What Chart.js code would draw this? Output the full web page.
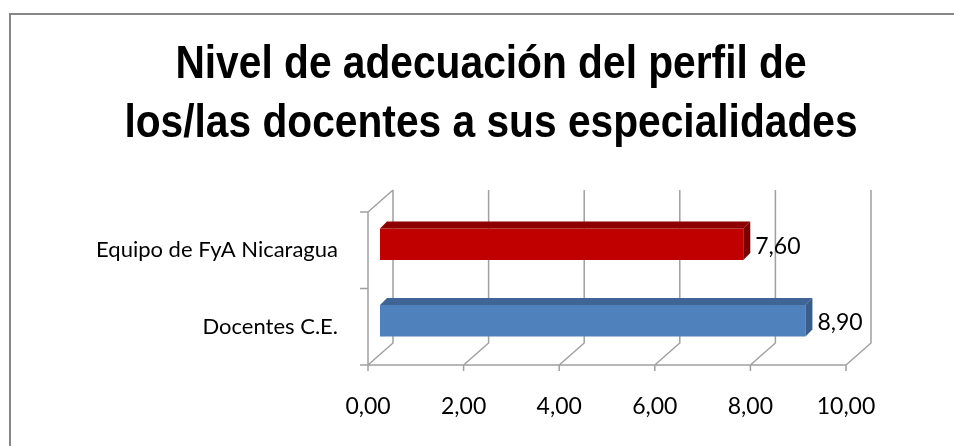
<!DOCTYPE html>
<html>
<head>
<meta charset="utf-8">
<script src="https://cdn.jsdelivr.net/npm/chart.js@4.4.1/dist/chart.umd.min.js"></script>
<style>
  html, body { margin: 0; padding: 0; background: #fff; }
  #wrap { width: 954px; height: 446px; }
</style>
</head>
<body>
<div id="wrap"><canvas id="chart" width="954" height="446"></canvas></div>
<script>
// data
const categories = ["Equipo de FyA Nicaragua", "Docentes C.E."]
const values = [7.6, 8.9]
const axisMin = 0
const axisMax = 10
const axisStep = 2
const titleLines = ["Nivel de adecuación del perfil de", "los/las docentes a sus especialidades"]

const frontColors = ["#C00000", "#4F81BD"]
const topColors = ["#8E0000", "#3E6596"]
const sideColors = ["#7A0000", "#385D8A"]

const fmt = v => Number(v).toFixed(2).replace(".", ",")

// fake 3d: wall depth and where the bars sit inside it
const WALL = { dx: 25, dy: -22 }
const BAR_SHIFT = { dx: 12, dy: -6 }
const BAR_DEPTH = 7
const LINE = "#A0A0A0"

const frame = {
    id: "frame",
    beforeDraw(chart) {
        const ctx = chart.ctx
        ctx.save()
        ctx.strokeStyle = "#878787"
        ctx.lineWidth = 2
        ctx.beginPath()
        ctx.moveTo(10, chart.height)
        ctx.lineTo(10, 14)
        ctx.lineTo(chart.width, 14)
        ctx.stroke()
        ctx.restore()
    }
}

// narrow bold title (no condensed font installed, so squeeze Liberation Sans)
const narrowTitle = {
    id: "narrowTitle",
    afterDraw(chart) {
        const ctx = chart.ctx
        const baselines = [78, 137]
        ctx.save()
        ctx.fillStyle = "#000"
        ctx.font = "bold 46px 'Liberation Sans', Arial, sans-serif"
        ctx.textAlign = "center"
        ctx.textBaseline = "alphabetic"
        titleLines.forEach((line, i) => {
            ctx.save()
            ctx.translate(491, baselines[i])
            ctx.scale(0.885, 1)
            ctx.fillText(line, 0, 0)
            ctx.restore()
        })
        ctx.restore()
    }
}

const box3d = {
    id: "box3d",
    beforeDatasetsDraw(chart) {
        const { ctx, chartArea: a, scales: { x } } = chart
        ctx.save()
        ctx.strokeStyle = LINE
        ctx.lineWidth = 1.5
        ctx.beginPath()
        x.ticks.forEach(t => {
            const fx = x.getPixelForValue(t.value)
            // back wall
            ctx.moveTo(fx + WALL.dx, a.top + WALL.dy)
            ctx.lineTo(fx + WALL.dx, a.bottom + WALL.dy)
            // floor
            ctx.lineTo(fx, a.bottom)
            // tick
            ctx.lineTo(fx, a.bottom + 6)
        })
        // front axis
        ctx.moveTo(x.getPixelForValue(axisMin), a.bottom)
        ctx.lineTo(x.getPixelForValue(axisMax), a.bottom)
        // left wall
        const lx = x.getPixelForValue(axisMin)
        ctx.moveTo(lx, a.bottom)
        ctx.lineTo(lx, a.top)
        ctx.lineTo(lx + WALL.dx, a.top + WALL.dy)
        const step = a.height / categories.length
        for (let i = 0; i <= categories.length; i++) {
            ctx.moveTo(lx - 8, a.top + i * step)
            ctx.lineTo(lx, a.top + i * step)
        }
        ctx.stroke()
        ctx.restore()

        // bars are drawn a bit inside the box
        ctx.save()
        ctx.translate(BAR_SHIFT.dx, BAR_SHIFT.dy)
    },
    afterDatasetsDraw(chart) {
        const ctx = chart.ctx
        const meta = chart.getDatasetMeta(0)
        meta.data.forEach((bar, i) => {
            const p = bar.getProps(["x", "y", "base", "height"], true)
            const top = p.y - p.height / 2
            const bot = p.y + p.height / 2
            const d = BAR_DEPTH
            ctx.fillStyle = topColors[i]
            ctx.beginPath()
            ctx.moveTo(p.base, top)
            ctx.lineTo(p.x, top)
            ctx.lineTo(p.x + d, top - d)
            ctx.lineTo(p.base + d, top - d)
            ctx.closePath()
            ctx.fill()
            ctx.fillStyle = sideColors[i]
            ctx.beginPath()
            ctx.moveTo(p.x, top)
            ctx.lineTo(p.x + d, top - d)
            ctx.lineTo(p.x + d, bot - d)
            ctx.lineTo(p.x, bot)
            ctx.closePath()
            ctx.fill()

            ctx.fillStyle = "#000"
            ctx.font = "23px Lato"
            ctx.textAlign = "left"
            ctx.textBaseline = "middle"
            ctx.fillText(fmt(values[i]), p.x + d + 5, p.y + 2)
        })
        ctx.restore()
    }
}

new Chart(document.getElementById("chart"), {
    type: "bar",
    data: {
        labels: categories,
        datasets: [{
            data: values,
            backgroundColor: frontColors,
            borderWidth: 0,
            barPercentage: 0.41,
            categoryPercentage: 1,
            clip: false,
        }]
    },
    options: {
        indexAxis: "y",
        responsive: false,
        animation: false,
        layout: { padding: { top: 212, left: 0, right: 108, bottom: 0 } },
        plugins: {
            legend: { display: false },
            tooltip: { enabled: false },
            title: { display: false },
        },
        scales: {
            x: {
                min: axisMin,
                max: axisMax,
                grid: { display: false, drawTicks: false },
                border: { display: false },
                ticks: {
                    stepSize: axisStep,
                    padding: 28,
                    color: "#000",
                    font: { family: "Lato", size: 23 },
                    callback: v => fmt(v),
                },
                afterFit: s => { s.height = 81 },
            },
            y: {
                grid: { display: false, drawTicks: false },
                border: { display: false },
                ticks: {
                    padding: 30,
                    color: "#000",
                    font: { family: "Lato", size: 22 },
                },
                afterFit: s => { s.width = 368 },
            }
        }
    },
    plugins: [frame, box3d, narrowTitle]
})
</script>
</body>
</html>
